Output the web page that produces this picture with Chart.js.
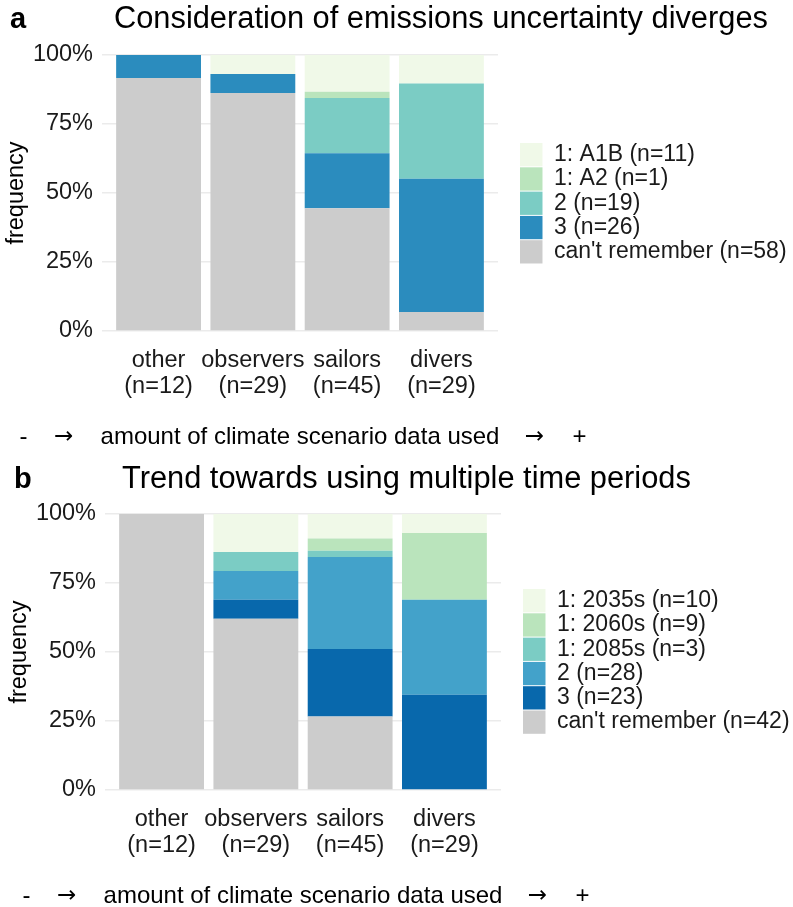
<!DOCTYPE html>
<html>
<head>
<meta charset="utf-8">
<script src="https://cdn.jsdelivr.net/npm/chart.js@4.4.1/dist/chart.umd.min.js"></script>
<style>
  html, body { margin: 0; padding: 0; background: #fff; width: 793px; height: 907px; overflow: hidden; }
  .panel { position: absolute; left: 0; width: 793px; overflow: hidden; }
  canvas { display: block; }
</style>
</head>
<body>
<div class="panel" style="top:0;height:459px"><canvas id="chartA" width="793" height="459"></canvas></div>
<div class="panel" style="top:459px;height:448px"><canvas id="chartB" width="793" height="459"></canvas></div>
<script>
const categories = ["other", "observers", "sailors", "divers"];
const groupN = [12, 29, 45, 29];
const yTicks = [0, 25, 50, 75, 100];

// panel a: counts per group, bottom of stack first
const emissionNames = ["can't remember", "3", "2", "1: A2", "1: A1B"];
const emissionColors = ["#cccccc", "#2b8cbe", "#7bccc4", "#bae4bc", "#f0f9e8"];
const emCantRemember = [11, 25, 20, 2];
const em3 = [1, 2, 9, 14];
const em2 = [0, 0, 9, 10];
const em1A2 = [0, 0, 1, 0];
const em1A1B = [0, 2, 6, 3];

// panel b
const periodNames = ["can't remember", "3", "2", "1: 2085s", "1: 2060s", "1: 2035s"];
const periodColors = ["#cccccc", "#0868ac", "#43a2ca", "#7bccc4", "#bae4bc", "#f0f9e8"];
const tpCantRemember = [12, 18, 12, 0];
const tp3 = [0, 2, 11, 10];
const tp2 = [0, 3, 15, 10];
const tp1_2085 = [0, 2, 1, 0];
const tp1_2060 = [0, 0, 2, 7];
const tp1_2035 = [0, 4, 4, 2];

const FONT = "'Liberation Sans', Arial, sans-serif";
Chart.defaults.font.family = FONT;
Chart.defaults.color = "#1a1a1a";

function toDatasets(names, colors, series) {
  return series.map((counts, k) => {
    const total = counts.reduce((a, b) => a + b, 0);
    return {
      label: names[k] + " (n=" + total + ")",
      data: counts.map((c, i) => ({ x: i + 1, y: (c / groupN[i]) * 100 })),
      backgroundColor: colors[k],
      borderWidth: 0,
      barPercentage: 0.9,
      categoryPercentage: 1,
    };
  });
}

// panel letter, title and the "- -> amount ... -> +" note under the x axis
const panelText = {
  id: "panelText",
  afterDraw(chart, args, opts) {
    const ctx = chart.ctx;
    const area = chart.chartArea;
    ctx.save();
    ctx.fillStyle = "#000";
    ctx.textBaseline = "alphabetic";
    ctx.textAlign = "left";
    ctx.font = "bold 29px " + FONT;
    ctx.fillText(opts.letter, opts.letterX, opts.baseline);
    ctx.font = "30.8px " + FONT;
    ctx.fillText(opts.title, opts.titleX, opts.baseline);

    const cx = (area.left + area.right) / 2;
    const y = opts.noteY;
    ctx.textBaseline = "middle";
    ctx.textAlign = "center";
    ctx.font = "24px " + FONT;
    const main = "amount of climate scenario data used";
    const w = ctx.measureText(main).width;
    ctx.fillText(main, cx, y);
    ctx.fillText("-", cx - w / 2 - 77, y);
    ctx.fillText("+", cx + w / 2 + 80, y);
    ctx.font = "23px 'DejaVu Sans', sans-serif";
    ctx.fillText("\u2192", cx - w / 2 - 37, y);
    ctx.fillText("\u2192", cx + w / 2 + 35, y);
    ctx.restore();
  },
};

function legendPlacer(plotRight, boxLeft, boxTop) {
  return {
    id: "legendPlacer",
    beforeLayout(chart) {
      const lg = chart.legend;
      if (lg && !lg._fixed) {
        const fit = lg.fit.bind(lg);
        lg.fit = function () { fit(); this.width = chart.width - plotRight; };
        lg._fixed = true;
      }
    },
    afterLayout(chart) {
      const lg = chart.legend;
      const h = lg.bottom - lg.top;
      lg.left = boxLeft;
      lg.top = boxTop - 1;
      lg.bottom = lg.top + h;
    },
  };
}

function makeChart(id, datasets, cfg) {
  return new Chart(document.getElementById(id), {
    type: "bar",
    data: { datasets },
    plugins: [panelText, legendPlacer(cfg.plotRight, cfg.boxLeft, cfg.boxTop)],
    options: {
      responsive: false,
      animation: false,
      layout: { padding: { top: 55, left: cfg.dx, right: 0, bottom: 0 } },
      plugins: {
        tooltip: { enabled: false },
        panelText: { letter: cfg.letter, letterX: cfg.letterX, title: cfg.title, titleX: cfg.titleX,
                     baseline: cfg.baseline, noteY: 437 },
        legend: {
          position: "right",
          align: "start",
          fullSize: false,
          reverse: true,
          labels: {
            boxWidth: 22.5,
            boxHeight: 23.3,
            padding: 1,
            color: "#1a1a1a",
            font: { size: 23 },
          },
        },
      },
      scales: {
        x: {
          type: "linear",
          offset: false,
          stacked: true,
          min: 0.4,
          max: categories.length + 0.6,
          grid: { display: false, offset: false },
          border: { display: false },
          afterBuildTicks: (s) => { s.ticks = categories.map((c, i) => ({ value: i + 1 })); },
          afterFit: (s) => { s.height = 128; },
          ticks: {
            padding: 8,
            maxRotation: 0,
            autoSkip: false,
            font: { size: 23.5, lineHeight: 1.11 },
            color: "#1a1a1a",
            callback: (v) => [categories[v - 1], "(n=" + groupN[v - 1] + ")"],
          },
        },
        y: {
          stacked: true,
          min: 0,
          max: 100,
          grid: { color: "#ebebeb", lineWidth: 1.5, drawTicks: false },
          border: { display: false },
          afterBuildTicks: (s) => { s.ticks = yTicks.map((v) => ({ value: v })); },
          afterFit: (s) => { s.width = 102; },
          ticks: {
            padding: 9,
            font: { size: 23.5 },
            color: "#1a1a1a",
            callback: (v) => v + "%",
          },
          title: {
            display: true,
            text: "frequency",
            color: "#000",
            font: { size: 23.5, lineHeight: 1.2 },
            padding: { top: 2, bottom: 0 },
          },
        },
      },
    },
  });
}

makeChart("chartA",
  toDatasets(emissionNames, emissionColors, [emCantRemember, em3, em2, em1A2, em1A1B]),
  { letter: "a", letterX: 10, title: "Consideration of emissions uncertainty diverges", titleX: 114, baseline: 28,
    dx: 0, plotRight: 498, boxLeft: 519, boxTop: 143 });

makeChart("chartB",
  toDatasets(periodNames, periodColors, [tpCantRemember, tp3, tp2, tp1_2085, tp1_2060, tp1_2035]),
  { letter: "b", letterX: 14, title: "Trend towards using multiple time periods", titleX: 122, baseline: 29,
    dx: 3, plotRight: 501, boxLeft: 522, boxTop: 130 });
</script>
</body>
</html>
